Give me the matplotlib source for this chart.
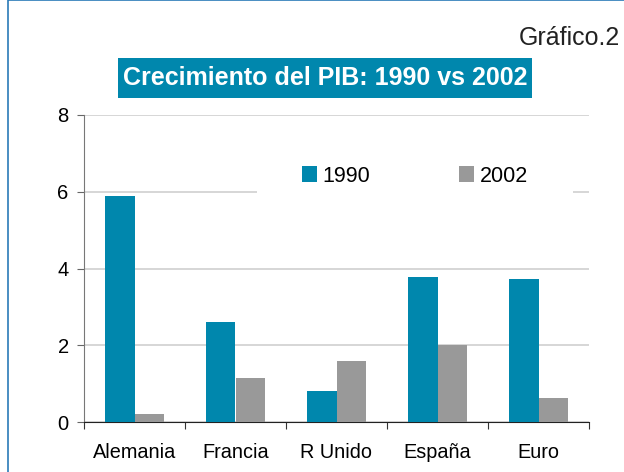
import matplotlib
matplotlib.use("Agg")
import matplotlib.pyplot as plt
from matplotlib.patches import Rectangle
import numpy as np

plt.rcParams['font.family'] = ['Liberation Sans', 'DejaVu Sans']

categories = ["Alemania", "Francia", "R Unido", "España", "Euro"]
series_names = ["1990", "2002"]
v1990 = [5.9, 2.6, 0.8, 3.78, 3.72]
v2002 = [0.21, 1.15, 1.6, 2.0, 0.63]
yticks = [0, 2, 4, 6, 8]

W, H = 624, 472
fig = plt.figure(figsize=(W/100, H/100), dpi=100)

teal = "#0087AD"
gray = "#999999"

def fx(px): return px / W
def fy(py): return 1 - py / H

# outer frame
fig.patches.append(Rectangle((fx(8), fy(480)), fx(700), 480/H, transform=fig.transFigure,
                             fill=False, edgecolor="#2a7ab8", linewidth=1.2))

ax = fig.add_axes([fx(84), fy(422), fx(589) - fx(84), fy(115) - fy(422)])
x = np.arange(len(categories))
w = 0.29
ax.bar(x - w/2, v1990, w, color=teal, label=series_names[0], zorder=3)
ax.bar(x + w/2, v2002, w, color=gray, label=series_names[1], zorder=3)

ax.set_xlim(-0.5, len(categories) - 0.5)
ax.set_ylim(0, 8)
ax.set_yticks(yticks)
ax.set_yticklabels([str(t) for t in yticks], fontsize=14.5)
ax.yaxis.grid(True, color="#d0d0d0", linewidth=1.2, zorder=0)
ax.set_axisbelow(True)

ax.set_xticks(np.arange(len(categories) + 1) - 0.5)
ax.set_xticklabels([])
ax.set_xticks(x, minor=True)
ax.set_xticklabels(categories, minor=True, fontsize=14.3)
ax.tick_params(axis='x', which='minor', length=0, pad=15)
ax.tick_params(axis='x', which='major', length=5, direction='out', color="#333333")
ax.tick_params(axis='y', length=5, direction='out', color="#666666", pad=6)

for s in ['top', 'right']:
    ax.spines[s].set_visible(False)
ax.spines['left'].set_color("#777777")
ax.spines['bottom'].set_color("#222222")

leg = ax.legend(ncol=2, loc='center', bbox_to_anchor=(fx(415), fy(176)),
                bbox_transform=fig.transFigure, fontsize=15.5, frameon=True,
                facecolor='white', edgecolor='none', framealpha=1, fancybox=False,
                handlelength=0.7, handleheight=0.7, handletextpad=0.28,
                columnspacing=4.1, borderpad=2.1)
leg.set_zorder(5)

# title box
fig.patches.append(Rectangle((fx(118), fy(98)), fx(532) - fx(118), (98 - 58)/H,
                             transform=fig.transFigure, facecolor=teal, edgecolor='none'))
fig.text(fx(325), fy(78), "Crecimiento del PIB: 1990 vs 2002", color='white',
         fontsize=18, fontweight='bold', ha='center', va='center')
fig.text(fx(620), fy(38), "Gráfico.2", fontsize=18, ha='right', va='center', color='#222222')

fig.savefig("out.png", dpi=100)
